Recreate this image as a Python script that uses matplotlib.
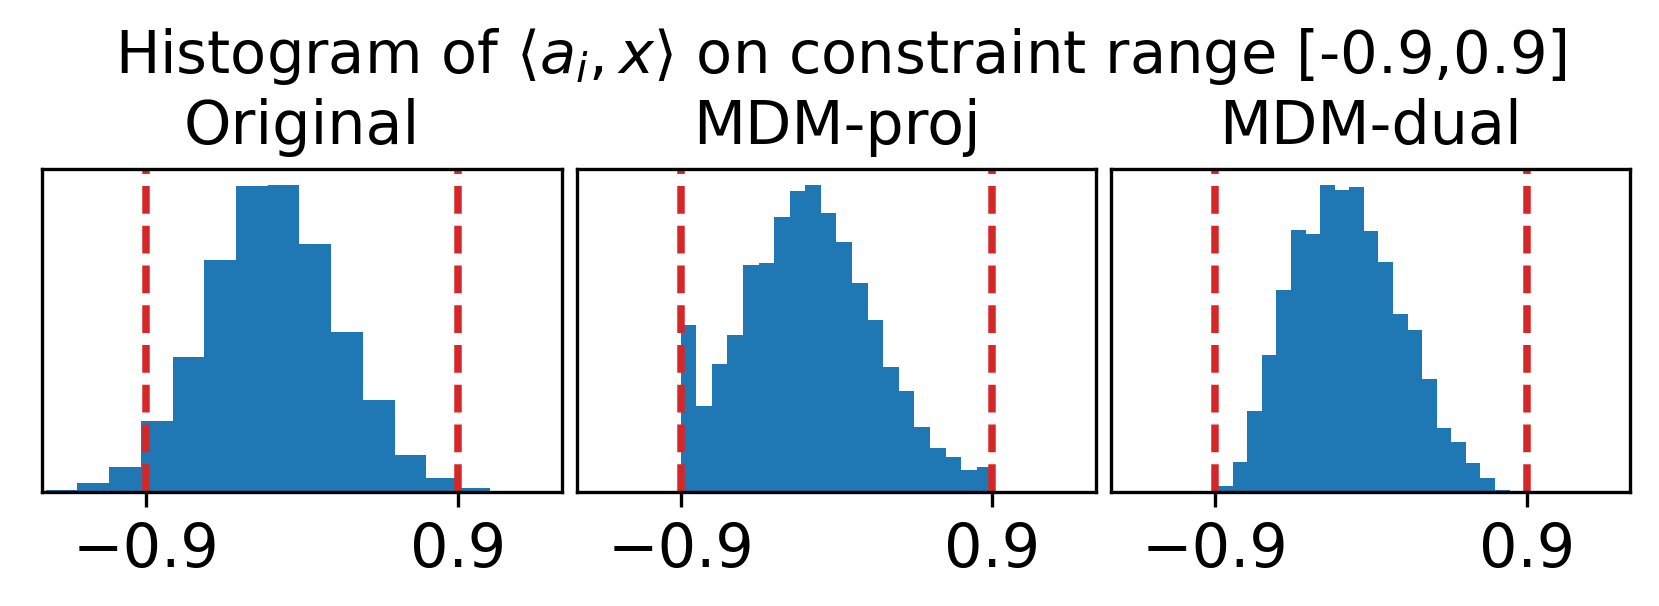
import numpy as np
import matplotlib
matplotlib.use("Agg")
import matplotlib.pyplot as plt

# bin edges and bar heights (relative counts)
orig_edges = -1.481 + 0.1832 * np.arange(15)
orig_counts = [5, 26, 74, 212, 405, 693, 914, 918, 741, 478, 275, 110, 42, 12]

proj_edges = np.linspace(-0.9, 0.9, 21)
proj_counts = [500, 258, 383, 469, 678, 684, 822, 901, 918, 833,
               746, 626, 515, 373, 303, 194, 133, 104, 65, 75]

dual_edges = np.linspace(-0.882, 0.802, 21)
dual_counts = [17, 89, 241, 408, 604, 784, 771, 918, 902, 913,
               780, 686, 533, 485, 338, 192, 149, 87, 42, 7]

titles = ["Original", "MDM-proj", "MDM-dual"]
bound = 0.9

fig, axes = plt.subplots(1, 3, figsize=(5.53, 2.02), dpi=300)
fig.subplots_adjust(left=0.0256, right=0.9828, top=0.7203, bottom=0.1881, wspace=0.029)

data = [(orig_edges, orig_counts), (proj_edges, proj_counts), (dual_edges, dual_counts)]
for ax, (edges, counts), t in zip(axes, data, titles):
    centers = 0.5 * (edges[:-1] + edges[1:])
    ax.hist(centers, bins=edges, weights=counts, color="tab:blue")
    ax.axvline(-bound, color="tab:red", ls="--", lw=1.8)
    ax.axvline(bound, color="tab:red", ls="--", lw=1.8)
    ax.set_xlim(-1.5, 1.5)
    ax.set_xticks([-bound, bound])
    ax.set_yticks([])
    ax.tick_params(axis="x", labelsize=14.5)
    ax.set_title(t, fontsize=14.5)

fig.text(0.507, 1 - 73 / 606, r"Histogram of $\langle a_i, x\rangle$ on constraint range [-0.9,0.9]",
         ha="center", va="baseline", fontsize=14.2)

fig.savefig("out.png", dpi=300)
